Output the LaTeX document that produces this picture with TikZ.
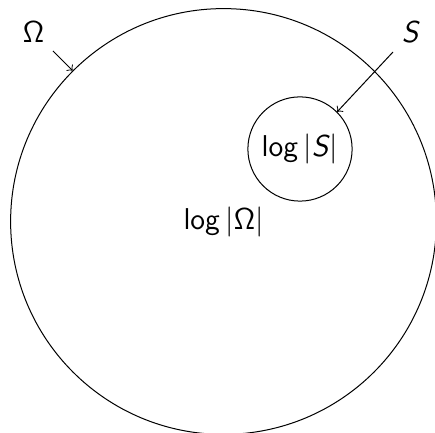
\documentclass[tikz,border=0pt]{standalone}
\usetikzlibrary{positioning}
\begin{document}
\begin{tikzpicture}[x=0.014cm, y=-0.014cm, >=to]
    \useasboundingbox (0,0) rectangle (435,433);

    \node[draw, circle, minimum size=5.964cm, inner sep=0pt] (omega) at (223.5,221.5)
        {\large $\mathsf{log}\,|\mathsf{\Omega}|$};
    \node[draw, circle, minimum size=1.46cm, inner sep=0pt] (set) at (300,149)
        {\large $\mathsf{log}\,|\textsf{\textit{S}}|$};

    \coordinate (omegatail) at (53,51);
    \node[above left=0pt of omegatail] (omegalabel) {\large $\mathsf{\Omega}$};
    \draw[->] (omegatail) -- (omega.135);

    \coordinate (settail) at (393,52);
    \node[above right=0pt of settail] (setlabel) {\large \textsf{\textit{S}}};
    \draw[->] (settail) -- (set.45);
\end{tikzpicture}
\end{document}
